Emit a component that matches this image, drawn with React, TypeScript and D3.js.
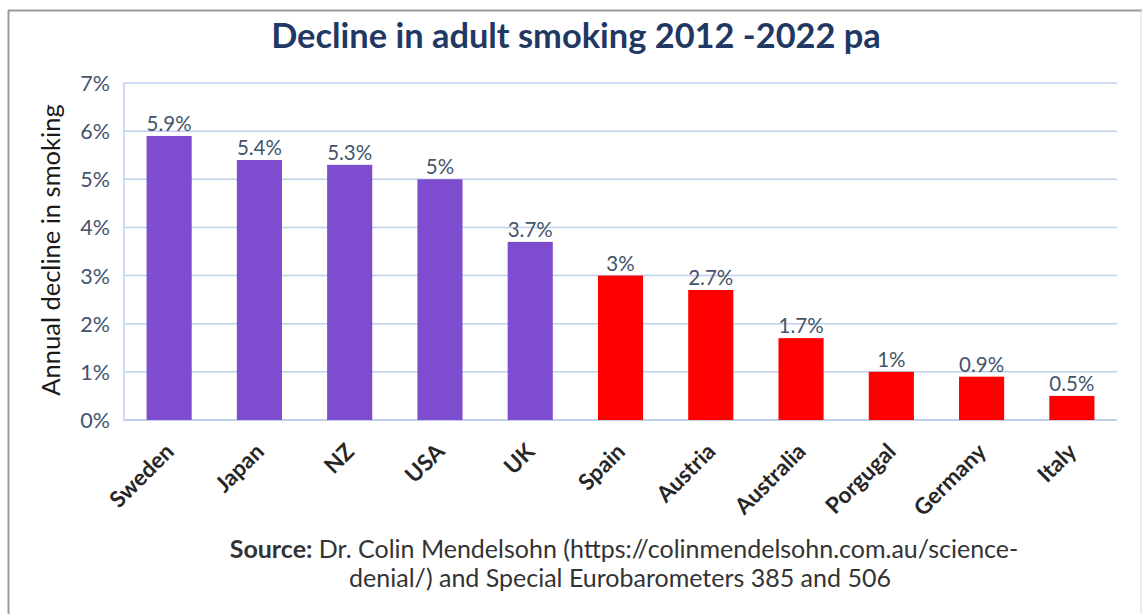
import React from "react";
import * as d3 from "d3";

const countries = ["Sweden", "Japan", "NZ", "USA", "UK", "Spain", "Austria", "Australia", "Porgugal", "Germany", "Italy"];
const declines = [5.9, 5.4, 5.3, 5, 3.7, 3, 2.7, 1.7, 1, 0.9, 0.5];
const groups = ["a", "a", "a", "a", "a", "b", "b", "b", "b", "b", "b"];
const yTicks = [0, 1, 2, 3, 4, 5, 6, 7];
const title = "Decline in adult smoking 2012 -2022 pa";
const yTitle = "Annual decline in smoking";

const W = 1142, H = 614;
const FONT = "Lato, 'Open Sans', sans-serif";

export default function App() {
  const x = d3.scaleBand().domain(countries).range([124, 1117]).paddingInner(0.5).paddingOuter(0.25);
  const y = d3.scaleLinear().domain([0, 7]).range([420, 83]);
  const color = (g: string) => (g === "a" ? "#7e4ccf" : "#ff0000");

  return (
    <svg width={W} height={H} style={{ position: "absolute", left: 0, top: 0 }}>
      <rect x={0} y={0} width={W} height={H} fill="#fff" />
      <line x1={8.5} y1={10} x2={8.5} y2={H} stroke="#9a9a9a" strokeWidth={2} />
      <line x1={8} y1={10.5} x2={W} y2={10.5} stroke="#9a9a9a" strokeWidth={2} />
      <line x1={1141} y1={10} x2={1141} y2={H} stroke="#d9d9d9" strokeWidth={1} />

      <text x={576} y={48} textAnchor="middle" fontFamily={FONT} fontWeight={700} fontSize={34.4} fill="#1f3864">
        {title}
      </text>

      {yTicks.map((t) => (
        <g key={t}>
          <line x1={124} x2={1117} y1={y(t)} y2={y(t)} stroke="#c0d0ec" strokeWidth={t === 0 ? 2 : 1.5} />
          <text x={110} y={y(t) + 8} textAnchor="end" fontFamily={FONT} fontSize={21.5} fill="#44546a">
            {t}%
          </text>
        </g>
      ))}
      <line x1={124} x2={124} y1={83} y2={421} stroke="#c0d0ec" strokeWidth={1.5} />

      <text transform={`translate(60,250) rotate(-90)`} textAnchor="middle" fontFamily={FONT} fontSize={25.5} fill="#1a1a1a">
        {yTitle}
      </text>

      {countries.map((c, i) => {
        const bx = x(c)!;
        const bw = x.bandwidth();
        const v = declines[i];
        return (
          <g key={c}>
            <rect x={bx} y={y(v)} width={bw} height={y(0) - y(v)} fill={color(groups[i])} />
            <text x={bx + bw / 2} y={y(v) - 5} textAnchor="middle" fontFamily={FONT} fontSize={20.5} fill="#44546a">
              {v}%
            </text>
            <text
              transform={`translate(${bx + bw / 2 + 6},${453}) rotate(-45)`}
              textAnchor="end"
              fontFamily={FONT}
              fontWeight={700}
              fontSize={22.5}
              fill="#262626"
            >
              {c}
            </text>
          </g>
        );
      })}

      <text x={624} y={558} textAnchor="middle" fontFamily={FONT} fontSize={25} fill="#333">
        <tspan fontWeight={700}>Source:</tspan> Dr. Colin Mendelsohn (https://colinmendelsohn.com.au/science-
      </text>
      <text x={620} y={587} textAnchor="middle" fontFamily={FONT} fontSize={25} fill="#333">
        denial/) and Special Eurobarometers 385 and 506
      </text>
    </svg>
  );
}
